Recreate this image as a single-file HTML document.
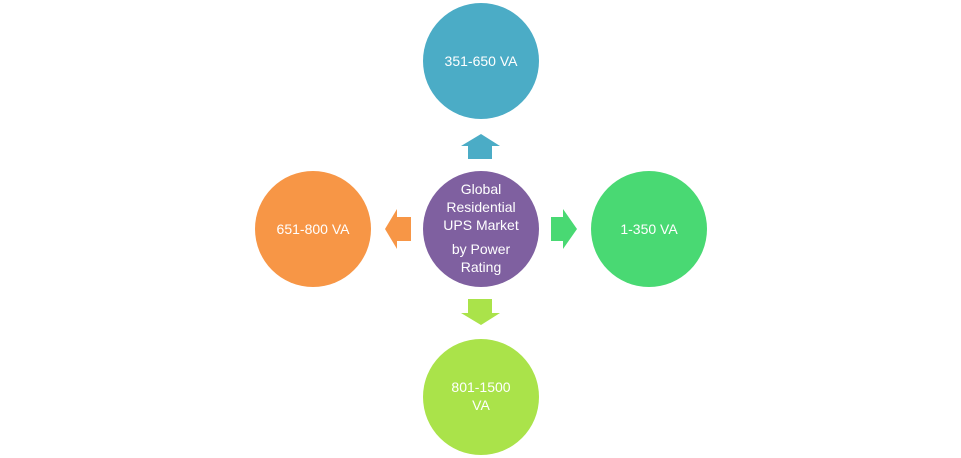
<!DOCTYPE html>
<html><head><meta charset="utf-8"><style>
html,body{margin:0;padding:0;background:#fff;}
svg{display:block;}
text{font-family:"Liberation Sans",sans-serif;font-size:14px;fill:#fff;text-anchor:middle;}
</style></head><body>
<svg width="961" height="458" viewBox="0 0 961 458">
<circle cx="481" cy="61" r="58" fill="#4BACC6"/>
<circle cx="481" cy="229" r="58" fill="#7F60A0"/>
<circle cx="313" cy="229" r="58" fill="#F79646"/>
<circle cx="649" cy="229" r="58" fill="#49D973"/>
<circle cx="481" cy="397" r="58" fill="#AAE34A"/>
<polygon points="481,134 500,146 492,146 492,159 468,159 468,146 461,146" fill="#4BACC6"/>
<polygon points="385,229 397,209 397,217 411,217 411,241 397,241 397,249" fill="#F79646"/>
<polygon points="577,229 563,209 563,217 551,217 551,241 563,241 563,249" fill="#49D973"/>
<polygon points="481,325 500,313 492,313 492,299 468,299 468,313 461,313" fill="#AAE34A"/>
<text x="481" y="66">351-650 VA</text>
<text x="313" y="234">651-800 VA</text>
<text x="649" y="234">1-350 VA</text>
<text x="481" y="392">801-1500</text>
<text x="481" y="410">VA</text>
<text x="481" y="194">Global</text>
<text x="481" y="212">Residential</text>
<text x="481" y="230">UPS Market</text>
<text x="481" y="254">by Power</text>
<text x="481" y="272">Rating</text>
</svg>
</body></html>
